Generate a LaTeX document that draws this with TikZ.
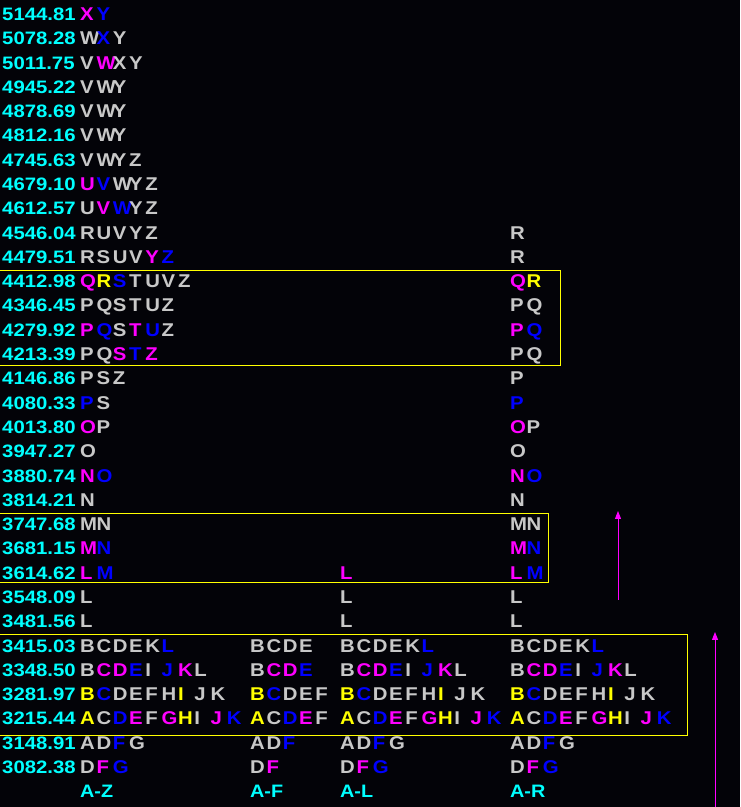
\documentclass[tikz,border=0pt]{standalone}
\usepackage{fontspec}
\setmainfont{Liberation Sans}
\usetikzlibrary{arrows.meta}
\definecolor{cg}{RGB}{200,200,200}
\definecolor{cb}{RGB}{0,0,255}
\definecolor{cm}{RGB}{255,0,255}
\definecolor{cy}{RGB}{255,255,0}
\definecolor{cc}{RGB}{0,255,255}
\definecolor{bg}{RGB}{3,3,8}
\tikzset{
 lt/.style={anchor=base west,inner sep=0pt,font=\fontsize{18.5}{18}\selectfont\bfseries},
 pr/.style={anchor=base west,inner sep=0pt,text=cc,font=\fontsize{18}{18}\selectfont\bfseries},
 va/.style={draw=cy,line width=0.9pt},
 ar/.style={draw=cm,line width=1pt,-{Triangle[length=8pt,width=6pt]}}
}
\newcommand\prow[3]{\foreach[count=\k] \c/\t in {#3} {\node[lt,text=\c] (c#1r#2k\k) at ({#1+16.3*(\k-1)},{807-(14+24.29*#2)-6.5}) {\scalebox{1.1}[1]{\t}};}}
\newcommand\lowblock[1]{%
\prow{#1}{26}{cg/B,cg/C,cg/D,cg/E,cg/K,cb/L}
\prow{#1}{27}{cg/B,cm/C,cm/D,cb/E,cg/I,cb/J,cm/K,cg/L}
\prow{#1}{28}{cy/B,cb/C,cg/D,cg/E,cg/F,cg/H,cy/I,cg/J,cg/K}
\prow{#1}{29}{cy/A,cg/C,cb/D,cm/E,cg/F,cm/G,cy/H,cg/I,cm/J,cb/K}
\prow{#1}{30}{cg/A,cg/D,cb/F,cg/G}
\prow{#1}{31}{cg/D,cm/F,cb/G}}
\begin{document}
\begin{tikzpicture}[x=1pt,y=1pt]
\fill[bg] (0,0) rectangle (740,807);
\useasboundingbox (0,0) rectangle (740,807);
\foreach[count=\i from 0] \p in {5144.81,5078.28,5011.75,4945.22,4878.69,4812.16,4745.63,4679.10,4612.57,4546.04,4479.51,4412.98,4346.45,4279.92,4213.39,4146.86,4080.33,4013.80,3947.27,3880.74,3814.21,3747.68,3681.15,3614.62,3548.09,3481.56,3415.03,3348.50,3281.97,3215.44,3148.91,3082.38}
 {\node[pr] (p\i) at (2,{807-(14+24.29*\i)-6.5}) {\scalebox{1.13}[1]{\p}};}
% column 1
\prow{80}{0}{cm/X,cb/Y}
\prow{80}{1}{cg/W,cb/X,cg/Y}
\prow{80}{2}{cg/V,cm/W,cg/X,cg/Y}
\prow{80}{3}{cg/V,cg/W,cg/Y}
\prow{80}{4}{cg/V,cg/W,cg/Y}
\prow{80}{5}{cg/V,cg/W,cg/Y}
\prow{80}{6}{cg/V,cg/W,cg/Y,cg/Z}
\prow{80}{7}{cm/U,cb/V,cg/W,cg/Y,cg/Z}
\prow{80}{8}{cg/U,cm/V,cb/W,cg/Y,cg/Z}
\prow{80}{9}{cg/R,cg/U,cg/V,cg/Y,cg/Z}
\prow{80}{10}{cg/R,cg/S,cg/U,cg/V,cm/Y,cb/Z}
\prow{80}{11}{cm/Q,cy/R,cb/S,cg/T,cg/U,cg/V,cg/Z}
\prow{80}{12}{cg/P,cg/Q,cg/S,cg/T,cg/U,cg/Z}
\prow{80}{13}{cm/P,cb/Q,cg/S,cm/T,cb/U,cg/Z}
\prow{80}{14}{cg/P,cg/Q,cm/S,cb/T,cm/Z}
\prow{80}{15}{cg/P,cg/S,cg/Z}
\prow{80}{16}{cb/P,cg/S}
\prow{80}{17}{cm/O,cg/P}
\prow{80}{18}{cg/O}
\prow{80}{19}{cm/N,cb/O}
\prow{80}{20}{cg/N}
\prow{80}{21}{cg/M,cg/N}
\prow{80}{22}{cm/M,cb/N}
\prow{80}{23}{cm/L,cb/M}
\prow{80}{24}{cg/L}
\prow{80}{25}{cg/L}
\lowblock{80}
% column 2
\prow{250}{26}{cg/B,cg/C,cg/D,cg/E}
\prow{250}{27}{cg/B,cm/C,cm/D,cb/E}
\prow{250}{28}{cy/B,cb/C,cg/D,cg/E,cg/F}
\prow{250}{29}{cy/A,cg/C,cb/D,cm/E,cg/F}
\prow{250}{30}{cg/A,cg/D,cb/F}
\prow{250}{31}{cg/D,cm/F}
% column 3
\prow{340}{23}{cm/L}
\prow{340}{24}{cg/L}
\prow{340}{25}{cg/L}
\lowblock{340}
% column 4
\prow{510}{9}{cg/R}
\prow{510}{10}{cg/R}
\prow{510}{11}{cm/Q,cy/R}
\prow{510}{12}{cg/P,cg/Q}
\prow{510}{13}{cm/P,cb/Q}
\prow{510}{14}{cg/P,cg/Q}
\prow{510}{15}{cg/P}
\prow{510}{16}{cb/P}
\prow{510}{17}{cm/O,cg/P}
\prow{510}{18}{cg/O}
\prow{510}{19}{cm/N,cb/O}
\prow{510}{20}{cg/N}
\prow{510}{21}{cg/M,cg/N}
\prow{510}{22}{cm/M,cb/N}
\prow{510}{23}{cm/L,cb/M}
\prow{510}{24}{cg/L}
\prow{510}{25}{cg/L}
\lowblock{510}
% labels
\node[pr] (l1) at (80,{807-791-6.5}) {\scalebox{1.1}[1]{A-Z}};
\node[pr] (l2) at (250,{807-791-6.5}) {\scalebox{1.1}[1]{A-F}};
\node[pr] (l3) at (340,{807-791-6.5}) {\scalebox{1.1}[1]{A-L}};
\node[pr] (l4) at (510,{807-791-6.5}) {\scalebox{1.1}[1]{A-R}};
% value areas
\draw[va] (-2,{807-270}) rectangle (560,{807-365});
\draw[va] (-2,{807-513}) rectangle (548,{807-582});
\draw[va] (-2,{807-634}) rectangle (687,{807-735});
% arrows
\coordinate (a1s) at (618,{807-600});
\coordinate (a1e) at (618,{807-511});
\coordinate (a2s) at (715,0);
\coordinate (a2e) at (715,{807-632});
\draw[ar] (a1s) -- (a1e);
\draw[ar] (a2s) -- (a2e);
\end{tikzpicture}
\end{document}
